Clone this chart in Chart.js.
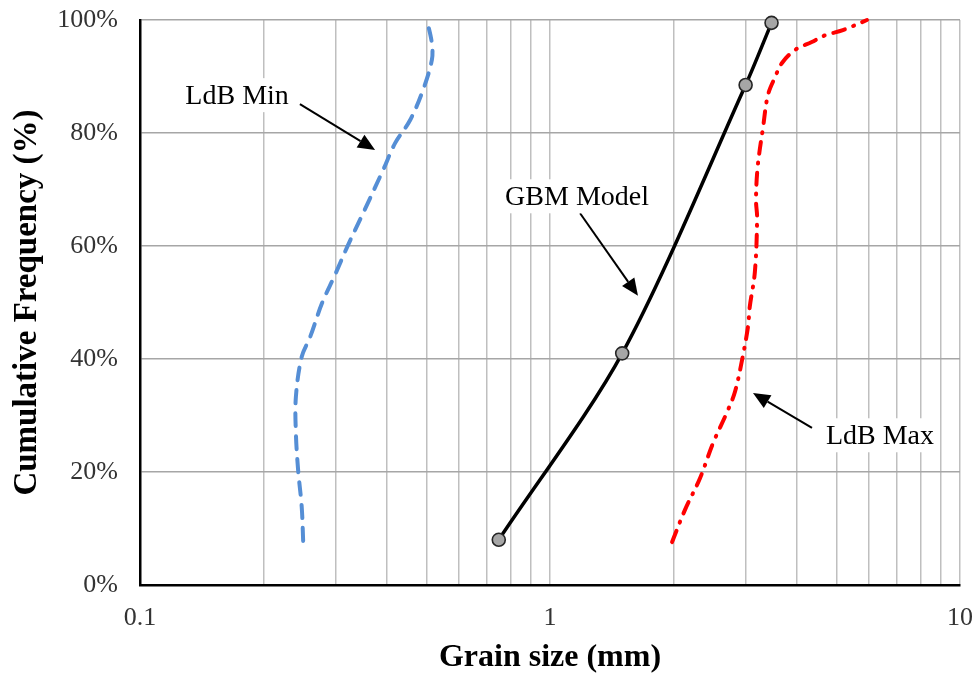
<!DOCTYPE html>
<html>
<head>
<meta charset="utf-8">
<script src="https://cdn.jsdelivr.net/npm/chart.js@4.4.1/dist/chart.umd.min.js"></script>
<style>
  html, body { margin: 0; padding: 0; background: #fff; }
  #wrap { width: 976px; height: 678px; position: relative; }
</style>
</head>
<body>
<div id="wrap"><canvas id="c" width="976" height="678"></canvas></div>
<script>
// ---- Data ----
const gbmSize = [0.75, 1.5, 3.0, 3.47];
const gbmPct  = [8, 41, 88.5, 99.5];

const minSize = [0.250, 0.248, 0.243, 0.240, 0.240, 0.248, 0.260, 0.278, 0.299, 0.320, 0.350, 0.392, 0.419, 0.456, 0.490, 0.515, 0.515, 0.501];
const minPct  = [7.8, 13.8, 20.4, 26.9, 33.3, 40.4, 43.9, 49.9, 54.9, 59.8, 65.8, 73.5, 78.2, 82.3, 87.6, 92.9, 95.9, 100];

const maxSize = [1.985, 2.134, 2.322, 2.498, 2.703, 2.826, 2.94, 3.04, 3.07, 3.16, 3.20, 3.18, 3.21, 3.31, 3.40, 3.54, 3.68, 3.96, 4.35, 4.69, 5.18, 5.93];
const maxPct  = [7.6, 13.3, 18.9, 25.1, 30.6, 34.2, 39.8, 45.7, 49.2, 55.4, 65.0, 68.1, 74.0, 81.1, 86.7, 89.9, 92.4, 94.7, 96.1, 97.3, 98.2, 100];

const xTickLabels = [0.1, 1, 10];
const yTickValues = [0, 20, 40, 60, 80, 100];

// annotation: label text, label position, arrow start, arrow end (data coords)
const notes = [
  { text: 'LdB Min',   label: [0.1725, 86.7], from: [0.2455, 85.1], to: [0.3744, 77.0] },
  { text: 'GBM Model', label: [1.164, 68.8],  from: [1.184, 65.8],  to: [1.639, 51.2] },
  { text: 'LdB Max',   label: [6.38, 26.5],   from: [4.355, 27.8],  to: [3.127, 34.0] }
];

const pts = (xs, ys) => xs.map((x, i) => ({ x: x, y: ys[i] }));

// minor log ticks for gridlines
function logTicks(min, max) {
  const t = [];
  for (let d = min; d < max; d *= 10) {
    for (let m = 1; m <= 9; m++) t.push(+(m * d).toPrecision(3));
  }
  t.push(max);
  return t;
}

const FONT = '"Liberation Serif", "Times New Roman", serif';

const annotPlugin = {
  id: 'annot',
  afterDatasetsDraw(chart) {
    const ctx = chart.ctx, xs = chart.scales.x, ys = chart.scales.y;
    ctx.save();
    notes.forEach(n => {
      const x1 = xs.getPixelForValue(n.from[0]), y1 = ys.getPixelForValue(n.from[1]);
      const x2 = xs.getPixelForValue(n.to[0]),   y2 = ys.getPixelForValue(n.to[1]);
      const ang = Math.atan2(y2 - y1, x2 - x1);
      const hl = 17, hw = 7.5;
      const bx = x2 - hl * Math.cos(ang), by = y2 - hl * Math.sin(ang);
      ctx.strokeStyle = '#000'; ctx.fillStyle = '#000'; ctx.lineWidth = 2;
      ctx.beginPath(); ctx.moveTo(x1, y1); ctx.lineTo(bx, by); ctx.stroke();
      ctx.beginPath();
      ctx.moveTo(x2, y2);
      ctx.lineTo(bx + hw * Math.sin(ang), by - hw * Math.cos(ang));
      ctx.lineTo(bx - hw * Math.sin(ang), by + hw * Math.cos(ang));
      ctx.closePath(); ctx.fill();

      const lx = xs.getPixelForValue(n.label[0]), ly = ys.getPixelForValue(n.label[1]);
      ctx.font = '28px ' + FONT;
      const w = ctx.measureText(n.text).width;
      ctx.fillStyle = '#fff';
      ctx.fillRect(lx - w / 2 - 6, ly - 17, w + 12, 34);
      ctx.fillStyle = '#000';
      ctx.textAlign = 'center'; ctx.textBaseline = 'middle';
      ctx.fillText(n.text, lx, ly + 1);
    });
    ctx.restore();
  }
};

new Chart(document.getElementById('c'), {
  type: 'scatter',
  data: {
    datasets: [
      {
        label: 'LdB Min',
        data: pts(minSize, minPct),
        showLine: true,
        borderColor: '#558ED5',
        borderWidth: 4,
        borderDash: [13, 10],
        borderCapStyle: 'round',
        tension: 0.35,
        pointRadius: 0,
        pointHoverRadius: 0
      },
      {
        label: 'LdB Max',
        data: pts(maxSize, maxPct),
        showLine: true,
        borderColor: '#FF0000',
        borderWidth: 4,
        borderDash: [12, 9, 1, 9],
        borderCapStyle: 'round',
        tension: 0.35,
        pointRadius: 0,
        pointHoverRadius: 0
      },
      {
        label: 'GBM Model',
        data: pts(gbmSize, gbmPct),
        showLine: true,
        borderColor: '#000000',
        borderWidth: 3.5,
        tension: 0.3,
        pointRadius: 6.5,
        pointBackgroundColor: '#A6A6A6',
        pointBorderColor: '#262626',
        pointBorderWidth: 1.6
      }
    ]
  },
  options: {
    responsive: false,
    animation: false,
    clip: false,
    layout: { padding: { top: 20, right: 16, left: 0, bottom: 0 } },
    plugins: { legend: { display: false }, tooltip: { enabled: false } },
    scales: {
      x: {
        type: 'logarithmic',
        min: 0.1, max: 10,
        afterBuildTicks(scale) {
          scale.ticks = logTicks(0.1, 10).map(v => ({ value: v }));
        },
        afterFit(scale) { scale.height = 93; scale.paddingLeft = 0; scale.paddingRight = 0; },
        ticks: {
          autoSkip: false,
          maxRotation: 0,
          padding: 18,
          color: '#333',
          font: { family: FONT, size: 26 },
          callback(v) {
            const hit = xTickLabels.find(t => Math.abs(t - v) < 1e-9);
            return hit !== undefined ? String(hit) : '';
          }
        },
        grid: { color: '#bfbfbf', lineWidth: 1.5, drawTicks: false },
        border: { color: '#000', width: 2.5 },
        title: {
          display: true,
          text: 'Grain size (mm)',
          color: '#000',
          font: { family: FONT, size: 32, weight: 'bold' },
          padding: { top: 0, bottom: 1 }
        }
      },
      y: {
        type: 'linear',
        min: 0, max: 100,
        afterBuildTicks(scale) {
          scale.ticks = yTickValues.map(v => ({ value: v }));
        },
        afterFit(scale) { scale.width = 140; scale.paddingTop = 0; scale.paddingBottom = 0; },
        ticks: {
          padding: 22,
          color: '#333',
          font: { family: FONT, size: 26 },
          callback: v => v + '%'
        },
        grid: { color: '#a6a6a6', lineWidth: 1.5, drawTicks: false },
        border: { color: '#000', width: 2.5 },
        title: {
          display: true,
          text: 'Cumulative Frequency (%)',
          color: '#000',
          font: { family: FONT, size: 33, weight: 'bold' },
          padding: { top: 8, bottom: 0 }
        }
      }
    }
  },
  plugins: [annotPlugin]
});
</script>
</body>
</html>
